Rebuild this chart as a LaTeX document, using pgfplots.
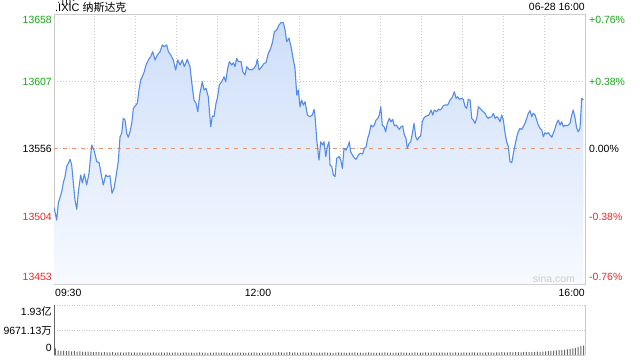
\documentclass[border=0pt]{standalone}
\usepackage{pgfplots}
\pgfplotsset{compat=1.18}
\usepackage{pgfplotstable}
\usepackage{fontspec}
\setmainfont{Liberation Sans}
\newfontfamily\cjk{Noto Sans CJK SC}
\definecolor{linecol}{RGB}{84,140,232}
\definecolor{filltop}{RGB}{206,222,249}
\definecolor{fillbot}{RGB}{247,250,255}
\definecolor{framecol}{RGB}{204,204,204}
\definecolor{gridcol}{RGB}{200,200,200}
\definecolor{dashor}{RGB}{232,150,110}
\definecolor{upgreen}{RGB}{24,165,24}
\definecolor{downred}{RGB}{240,40,40}
\definecolor{volcol}{RGB}{105,105,105}

\pgfplotstableread{
m p
0 13511.2
2.0 13501.6
3.2 13514.5
5.7 13523.1
6.8 13529.7
8.1 13534.5
9.3 13542.1
10.5 13544.6
11.8 13547.7
13.0 13543.3
14.2 13529.7
15.4 13516.8
16.7 13509.7
17.9 13523.1
19.6 13535.8
20.8 13529.7
22.3 13536.5
24.0 13528.2
25.7 13537.0
27.7 13558.5
29.4 13554.7
31.4 13545.9
33.1 13545.1
35.0 13534.5
36.2 13528.2
38.0 13535.8
39.2 13534.5
41.1 13535.2
42.6 13521.9
44.1 13525.7
45.5 13534.5
47.2 13545.9
48.5 13564.8
49.7 13567.4
50.9 13578.8
52.2 13577.5
53.4 13567.4
54.6 13564.4
55.8 13568.6
57.1 13575.0
58.3 13586.4
60.2 13588.9
61.2 13590.2
62.4 13600.3
63.7 13607.9
64.9 13610.4
66.3 13614.2
67.6 13619.3
69.3 13623.1
71.0 13625.6
72.5 13629.4
74.2 13623.1
75.9 13626.9
77.9 13629.4
79.6 13634.5
81.0 13633.2
82.8 13634.5
84.0 13629.4
85.7 13626.9
87.6 13623.1
89.4 13615.5
90.9 13623.1
92.6 13619.3
94.2 13623.1
95.7 13618.0
97.9 13623.6
99.9 13618.0
101.1 13606.6
102.8 13592.7
104.3 13590.2
105.6 13583.8
107.2 13597.8
108.9 13606.6
110.2 13600.3
111.6 13601.6
113.3 13595.2
115.1 13572.4
116.3 13580.6
117.5 13580.0
119.0 13590.2
120.2 13595.2
121.4 13604.1
123.2 13606.6
124.9 13610.4
126.1 13606.6
127.6 13616.8
128.8 13621.8
130.5 13619.3
131.7 13621.0
132.9 13618.0
134.2 13624.4
135.4 13621.8
137.4 13621.8
138.6 13614.2
140.3 13611.7
141.5 13618.0
143.2 13616.0
145.2 13615.5
146.9 13616.8
148.4 13619.3
149.3 13623.6
150.6 13615.5
152.6 13618.0
154.3 13620.6
155.7 13621.0
157.4 13628.2
159.2 13632.0
160.6 13637.0
161.8 13644.6
163.6 13645.9
165.3 13649.7
166.7 13651.4
168.4 13651.4
169.7 13645.9
170.9 13637.0
172.6 13639.6
174.1 13633.2
175.8 13623.1
177.0 13616.8
178.3 13596.5
179.4 13600.3
180.7 13587.6
181.9 13592.7
183.1 13588.9
184.4 13591.4
186.1 13581.3
188.0 13580.0
189.7 13581.3
191.0 13585.6
191.7 13580.6
193.0 13562.3
194.6 13547.1
195.9 13561.0
197.4 13558.5
198.3 13561.0
199.6 13549.7
200.7 13557.2
202.0 13561.0
202.7 13543.3
204.0 13542.1
205.2 13535.8
206.4 13534.5
207.6 13548.4
209.3 13549.7
210.6 13547.1
211.8 13540.8
213.0 13556.0
214.5 13554.7
215.7 13557.2
216.9 13561.0
217.9 13553.4
219.8 13549.7
221.8 13547.7
223.5 13550.9
224.8 13552.2
226.7 13551.7
227.9 13556.0
229.2 13557.2
230.4 13563.6
231.6 13567.4
232.8 13573.7
234.1 13572.4
235.3 13573.7
236.5 13577.5
237.8 13578.8
238.9 13581.3
240.0 13587.6
241.1 13573.7
242.4 13572.4
243.6 13568.6
244.8 13575.0
246.3 13578.8
247.5 13576.2
248.8 13578.0
250.0 13573.0
251.2 13573.7
252.5 13572.0
253.6 13570.4
254.9 13572.4
256.1 13573.0
257.3 13566.1
258.5 13563.6
259.5 13556.0
260.8 13559.8
262.0 13561.0
263.2 13567.4
264.4 13575.0
265.7 13564.8
266.8 13562.3
268.1 13564.4
269.3 13565.4
270.5 13576.2
272.0 13579.6
273.7 13580.6
275.4 13581.3
276.9 13585.1
278.2 13581.3
279.3 13585.1
281.1 13583.8
282.3 13585.6
283.5 13585.1
284.8 13586.4
285.9 13588.4
287.2 13588.9
289.2 13588.9
290.9 13592.7
292.6 13594.8
294.0 13599.0
295.3 13594.0
296.5 13595.2
297.7 13593.2
299.5 13594.0
300.6 13593.2
301.9 13587.6
303.1 13586.4
304.3 13593.2
305.6 13592.7
306.8 13578.8
308.0 13577.5
309.2 13575.0
310.5 13578.8
311.7 13587.6
312.9 13586.4
314.1 13585.1
315.3 13583.8
316.6 13582.6
317.8 13580.0
319.0 13578.8
320.2 13579.6
321.5 13580.0
322.7 13582.6
323.9 13578.8
325.2 13580.0
326.3 13578.8
327.6 13576.2
328.8 13581.3
330.0 13577.5
331.3 13567.4
332.5 13561.0
333.7 13557.2
334.9 13545.9
336.2 13545.1
337.4 13552.2
338.6 13558.5
339.9 13564.8
341.0 13568.6
342.3 13571.2
343.5 13570.4
344.7 13572.4
345.9 13575.0
347.2 13578.8
348.4 13582.6
349.6 13584.6
350.9 13580.0
352.0 13582.6
353.3 13581.3
354.5 13577.5
355.7 13573.7
357.0 13571.2
358.2 13569.9
359.4 13564.8
360.6 13567.9
361.9 13566.9
363.1 13567.9
364.3 13566.1
365.6 13564.4
366.7 13567.4
368.0 13571.2
369.2 13575.0
370.4 13577.5
371.7 13573.7
372.9 13576.2
374.1 13572.4
375.3 13573.7
376.6 13573.0
377.7 13573.7
379.0 13575.0
380.2 13581.3
381.4 13585.1
382.7 13578.8
383.9 13571.2
385.1 13568.6
386.3 13571.2
387.6 13594.0
388.8 13592.7
}\pricedata

\begin{document}
\begin{tikzpicture}[x=1bp,y=1bp,every node/.style={font=\fontsize{10.5}{12}\selectfont, inner sep=0pt}]
\fill[white] (0,0) rectangle (640,360);

% main price axis
\begin{axis}[at={(54bp,76bp)}, anchor=south west, scale only axis,
  width=531bp, height=270bp,
  xmin=0, xmax=390, ymin=13453, ymax=13658,
  axis line style={draw=framecol, line width=0.8bp},
  xtick={30,60,...,360}, xticklabels={},
  ytick={13504,13556,13607}, yticklabels={},
  major tick length=0pt,
  grid=major,
  grid style={draw=gridcol, line width=0.7bp, dash pattern=on 1bp off 2bp},
  clip=true]
\addplot[draw=none, top color=filltop, bottom color=fillbot] table[x=m,y=p]{\pricedata} \closedcycle;
\addplot[color=dashor, line width=0.8bp, dash pattern=on 4bp off 5bp] coordinates {(0,13556) (390,13556)};
\addplot[color=linecol, line width=1.1bp, line join=round] table[x=m,y=p]{\pricedata};
\end{axis}

% volume axis
\begin{axis}[at={(54bp,5bp)}, anchor=south west, scale only axis,
  width=531bp, height=50bp,
  xmin=0, xmax=390, ymin=0, ymax=193,
  axis line style={draw=none},
  xtick=\empty, ytick={96.7113,193}, yticklabels={},
  major tick length=0pt,
  ymajorgrids,
  grid style={draw=gridcol, line width=0.8bp, dash pattern=on 1bp off 1.5bp},
  clip=false]
\addplot[ybar, bar width=1bp, fill=volcol, draw=none] coordinates {
(1,26)(3,18)(5,16)(7,17)(9,15)(11,16)(13,14)(15,15)(17,13)(19,14)(21,13)(23,12)(25,13)(27,12)(29,11)(31,12)(33,11)(35,10)(37,11)(39,10)
(41,10)(43,11)(45,9)(47,10)(49,10)(51,9)(53,10)(55,11)(57,9)(59,10)(61,9)(63,10)(65,9)(67,9)(69,10)(71,9)(73,10)(75,9)(77,9)(79,10)
(81,9)(83,10)(85,9)(87,9)(89,10)(91,9)(93,8)(95,9)(97,10)(99,9)(101,9)(103,8)(105,9)(107,10)(109,9)(111,9)(113,8)(115,9)(117,9)(119,10)
(121,9)(123,9)(125,10)(127,9)(129,8)(131,9)(133,9)(135,10)(137,9)(139,9)(141,8)(143,9)(145,9)(147,10)(149,9)(151,8)(153,9)(155,9)(157,10)(159,9)
(161,10)(163,9)(165,11)(167,10)(169,9)(171,10)(173,11)(175,9)(177,10)(179,9)(181,9)(183,10)(185,9)(187,9)(189,10)(191,9)(193,8)(195,9)(197,9)(199,10)
(201,9)(203,9)(205,8)(207,9)(209,10)(211,9)(213,9)(215,8)(217,9)(219,9)(221,10)(223,9)(225,9)(227,8)(229,9)(231,10)(233,9)(235,9)(237,8)(239,9)
(241,9)(243,10)(245,9)(247,9)(249,8)(251,9)(253,9)(255,10)(257,9)(259,9)(261,8)(263,9)(265,10)(267,9)(269,9)(271,9)(273,10)(275,9)(277,9)(279,10)
(281,9)(283,9)(285,10)(287,9)(289,9)(291,10)(293,9)(295,10)(297,9)(299,9)(301,10)(303,9)(305,9)(307,10)(309,10)(311,9)(313,10)(315,9)(317,10)(319,10)
(321,10)(323,9)(325,10)(327,10)(329,11)(331,10)(333,10)(335,11)(337,10)(339,11)(341,11)(343,10)(345,11)(347,12)(349,11)(351,12)(353,12)(355,13)(357,12)(359,13)
(361,14)(363,15)(365,16)(367,17)(369,18)(371,19)(373,20)(375,21)(377,22)(379,24)(381,26)(383,28)(385,31)(387,34)(389,36)
};
\draw[draw=gray!80!black, line width=0.9bp] (rel axis cs:0,0) -- (rel axis cs:0,1);
\draw[draw=framecol, line width=0.8bp] (rel axis cs:1,0) -- (rel axis cs:1,1);
\draw[draw=framecol, line width=0.8bp] (rel axis cs:0,0) -- (rel axis cs:1,0);
\end{axis}

% title and time stamp
\node[anchor=base west, font=\fontsize{11}{13}\selectfont] at (55,349) {.IXIC {\cjk 纳斯达克}};
\node[anchor=base east] at (585,349.5) {06-28 16:00};

% left price labels
\node[anchor=east, text=upgreen] at (52,340) {13658};
\node[anchor=east, text=upgreen] at (52,278) {13607};
\node[anchor=east, text=black] at (52,211) {13556};
\node[anchor=east, text=downred] at (52,143) {13504};
\node[anchor=east, text=downred] at (52,83) {13453};

% right percentage labels
\node[anchor=west, text=upgreen] at (589,340) {+0.76\%};
\node[anchor=west, text=upgreen] at (589,278) {+0.38\%};
\node[anchor=west, text=black] at (589,211) {0.00\%};
\node[anchor=west, text=downred] at (589,143) {-0.38\%};
\node[anchor=west, text=downred] at (589,83) {-0.76\%};

% time labels
\node[anchor=west] at (55,67) {09:30};
\node[anchor=center] at (258,67) {12:00};
\node[anchor=east] at (585,67) {16:00};

% watermark
\node[anchor=east, text=gray!40] at (575,81) {sina.com};

% volume labels
\node[anchor=east] at (52,48) {1.93{\cjk 亿}};
\node[anchor=east] at (52,29) {9671.13{\cjk 万}};
\node[anchor=east] at (52,12) {0};

\pgfresetboundingbox
\path[use as bounding box] (0,0) rectangle (640,360);
\end{tikzpicture}
\end{document}
